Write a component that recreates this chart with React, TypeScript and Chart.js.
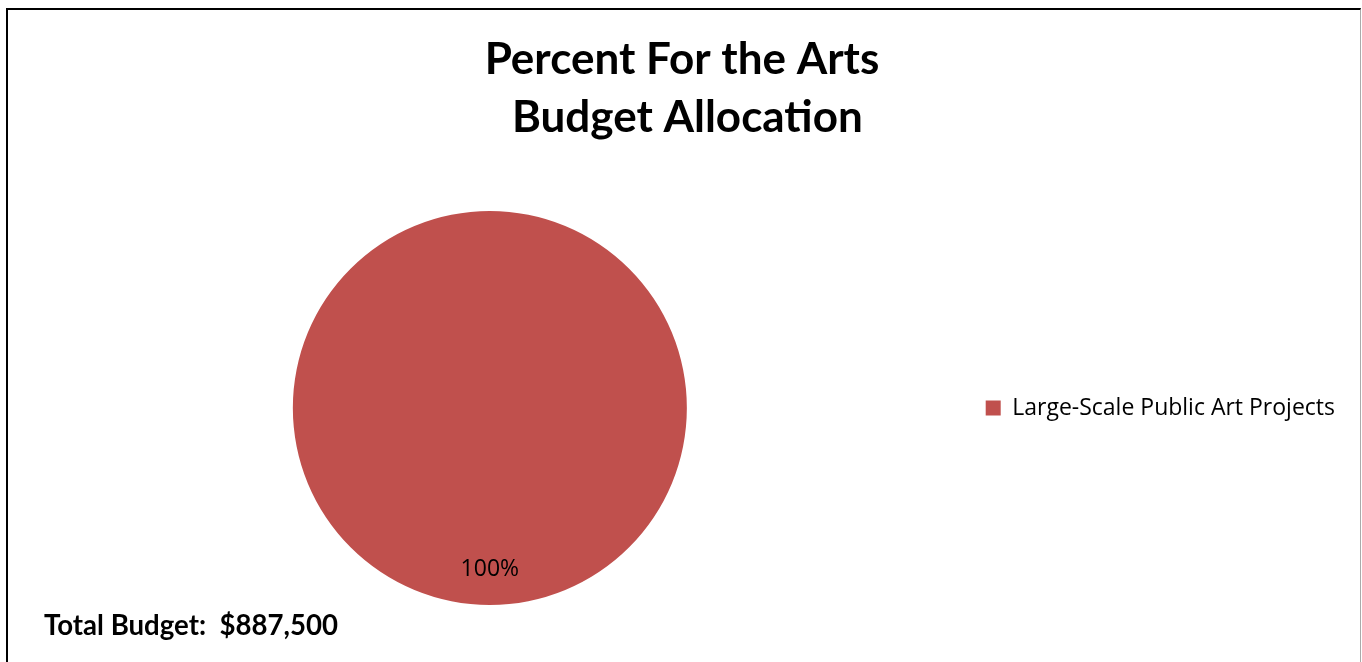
import React, { useEffect, useRef } from "react";
import { Chart, registerables } from "chart.js";

Chart.register(...registerables);

const categories = ["Large-Scale Public Art Projects"];
const budgetValues = [887500];
const sliceColors = ["#C0504D"];
const titleLines = ["Percent For the Arts", " Budget Allocation"];
const totalBudgetText = "Total Budget:  $887,500";

// Draws the percentage label inside the slice and the total budget note.
const annotationsPlugin = {
  id: "pieAnnotations",
  afterDatasetsDraw(chart: any) {
    const ctx = chart.ctx;
    const meta = chart.getDatasetMeta(0);
    const data = chart.data.datasets[0].data as number[];
    const total = data.reduce((a, b) => a + b, 0);
    ctx.save();
    meta.data.forEach((arc: any, i: number) => {
      const { x, y, outerRadius, startAngle, endAngle } = arc.getProps(
        ["x", "y", "outerRadius", "startAngle", "endAngle"],
        true
      );
      const span = endAngle - startAngle;
      const mid = span >= Math.PI * 2 - 1e-6 ? Math.PI / 2 : (startAngle + endAngle) / 2;
      const r = outerRadius * 0.82;
      const pct = Math.round((data[i] / total) * 100) + "%";
      ctx.fillStyle = "#000";
      ctx.font = "23px 'Open Sans', sans-serif";
      ctx.textAlign = "center";
      ctx.textBaseline = "middle";
      ctx.fillText(pct, x + Math.cos(mid) * r, y + Math.sin(mid) * r);
    });
    ctx.font = "bold 27.6px Lato, sans-serif";
    ctx.textAlign = "left";
    ctx.textBaseline = "middle";
    ctx.fillStyle = "#000";
    ctx.fillText(totalBudgetText, 44, 626);
    ctx.restore();
  },
};

export default function App() {
  const canvasRef = useRef<HTMLCanvasElement | null>(null);

  useEffect(() => {
    if (!canvasRef.current) return;
    const chart = new Chart(canvasRef.current, {
      type: "pie",
      data: {
        labels: categories,
        datasets: [
          {
            data: budgetValues,
            backgroundColor: sliceColors,
            borderWidth: 0,
          },
        ],
      },
      options: {
        animation: false,
        responsive: false,
        maintainAspectRatio: false,
        rotation: 90,
        layout: { padding: { top: 0, bottom: 57, left: 19, right: 17 } },
        plugins: {
          title: {
            display: true,
            text: titleLines,
            color: "#000",
            font: { family: "Lato, sans-serif", size: 44, weight: "bold", lineHeight: 1.318 },
            padding: { top: 31, bottom: 64 },
          },
          legend: {
            position: "right",
            fullSize: false,
            labels: {
              color: "#000",
              boxWidth: 15,
              boxHeight: 15,
              padding: 25,
              font: { family: "'Open Sans', sans-serif", size: 23 },
            },
          },
          tooltip: { enabled: false },
        },
      },
      plugins: [annotationsPlugin],
    });
    return () => chart.destroy();
  }, []);

  return (
    <div style={{ position: "absolute", left: 0, top: 0, width: 1362, height: 662, background: "#fff", overflow: "hidden" }}>
      <div
        style={{
          position: "absolute",
          left: 6,
          top: 8,
          width: 1355,
          height: 700,
          borderLeft: "2px solid #000",
          borderTop: "2px solid #000",
          borderRight: "1px solid #aaa",
          boxSizing: "border-box",
        }}
      />
      <canvas ref={canvasRef} width={1362} height={662} style={{ position: "absolute", left: 0, top: 0 }} />
    </div>
  );
}
